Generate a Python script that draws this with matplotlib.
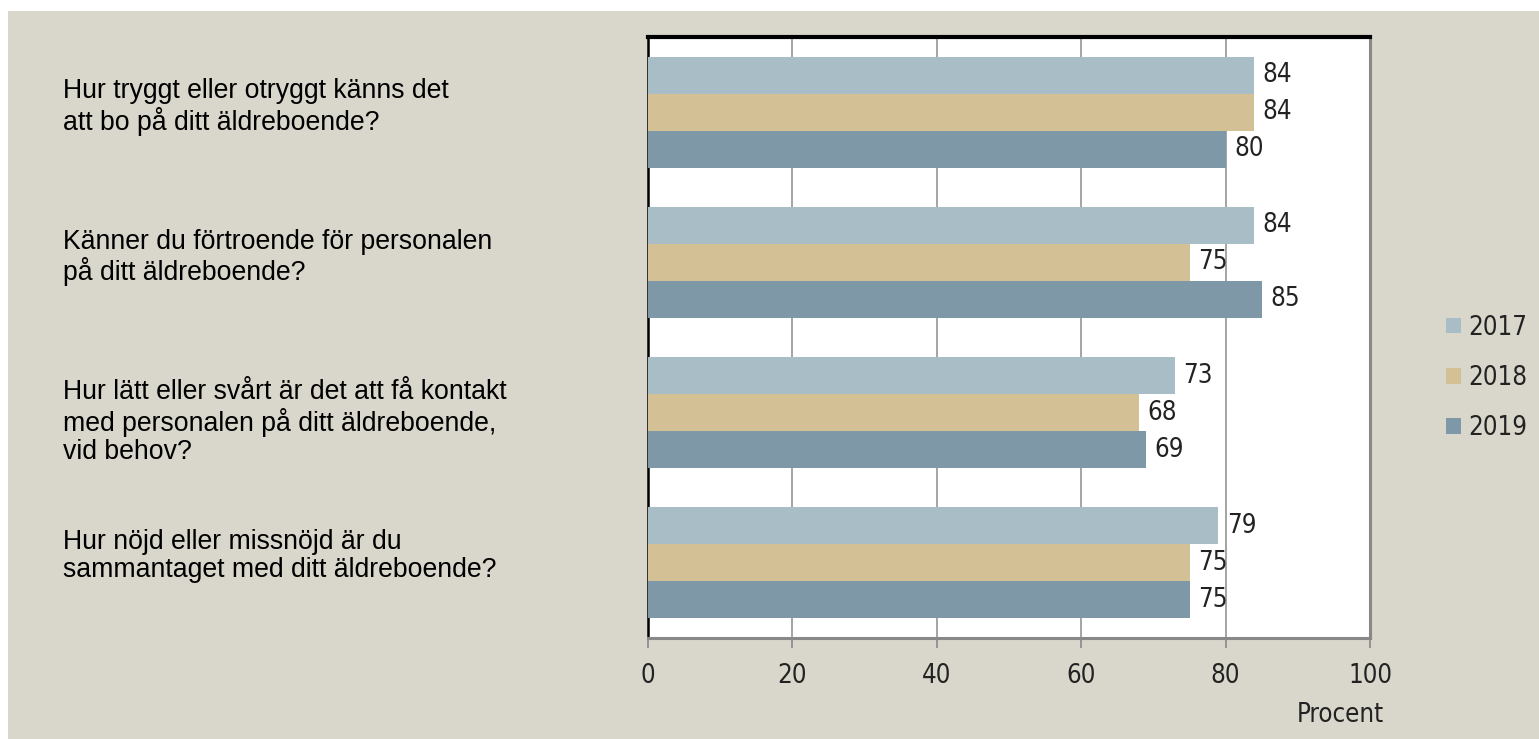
import matplotlib
matplotlib.use("Agg")
import matplotlib.pyplot as plt
import matplotlib.transforms as mtransforms
from matplotlib.patches import Rectangle, Patch
import numpy as np

categories = [
    "Hur tryggt eller otryggt känns det\natt bo på ditt äldreboende?",
    "Känner du förtroende för personalen\npå ditt äldreboende?",
    "Hur lätt eller svårt är det att få kontakt\nmed personalen på ditt äldreboende,\nvid behov?",
    "Hur nöjd eller missnöjd är du\nsammantaget med ditt äldreboende?",
]
years = ["2017", "2018", "2019"]
values_2017 = [84, 84, 73, 79]
values_2018 = [84, 75, 68, 75]
values_2019 = [80, 85, 69, 75]
series = [values_2017, values_2018, values_2019]
colors = ["#a9bdc7", "#d4c095", "#7e98a8"]
x_ticks = [0, 20, 40, 60, 80, 100]
x_label = "Procent"

NUM_FONT = {"family": "DejaVu Sans", "size": 18.5, "stretch": "condensed"}

W, H = 1539, 739
fig = plt.figure(figsize=(W / 100, H / 100), dpi=100, facecolor="white")
bg = Rectangle((8 / W, 0), 1, (H - 11) / H, transform=fig.transFigure,
               facecolor="#d9d7cb", edgecolor="none", zorder=-10)
fig.patches.append(bg)

ax_l, ax_r, ax_t, ax_b = 648, 1370, 37, 638
ax = fig.add_axes([ax_l / W, (H - ax_b) / H, (ax_r - ax_l) / W, (ax_b - ax_t) / H])
ax.set_zorder(1)
ax.set_facecolor("white")

n = len(categories)
bar_h = 0.246
y_idx = np.arange(n)
for k, (vals, col) in enumerate(zip(series, colors)):
    ypos = y_idx + (k - 1) * bar_h
    ax.barh(ypos, vals, height=bar_h, color=col, edgecolor="none", zorder=3, label=years[k])
    for yy, v in zip(ypos, vals):
        ax.annotate(str(v), (v, yy), xytext=(6, 0), textcoords="offset points",
                    va="center", ha="left", color="#222222", zorder=4, **NUM_FONT)

ax.set_xlim(0, 100)
ax.set_ylim(n - 0.5, -0.5)
ax.set_xticks(x_ticks)
ax.set_xticklabels([str(t) for t in x_ticks], color="#222222", **NUM_FONT)
ax.set_yticks([])
ax.tick_params(axis="x", direction="out", length=7.5, width=1.2, color="#888888", pad=10.5)
ax.xaxis.grid(True, color="#8c8c8c", linewidth=1.1, zorder=1)
ax.set_axisbelow(True)

ax.spines["top"].set_color("black")
ax.spines["top"].set_linewidth(3)
ax.spines["left"].set_color("black")
ax.spines["left"].set_linewidth(1.8)
ax.spines["bottom"].set_color("#888888")
ax.spines["bottom"].set_linewidth(2.2)
ax.spines["right"].set_color("#888888")
ax.spines["right"].set_linewidth(2.2)

ax.text(1.019, -0.128, x_label, transform=ax.transAxes, ha="right", va="center",
        color="#222222", **NUM_FONT)

# category labels
blend = mtransforms.blended_transform_factory(fig.transFigure, ax.transData)
for i, lab in enumerate(categories):
    fig.text(63 / W, i - 0.225, lab, transform=blend, ha="left", va="top",
             fontsize=19.2, family="Liberation Sans", color="black", linespacing=1.12)

handles = [Patch(facecolor=c, edgecolor="none") for c in colors]
leg = fig.legend(handles, years, loc="center left", bbox_to_anchor=(1423 / W, (H - 378) / H),
                 frameon=False, handlelength=0.57, handleheight=0.57,
                 handletextpad=0.28, labelspacing=0.95, prop=NUM_FONT)
for t in leg.get_texts():
    t.set_color("#222222")

fig.savefig("out.png", dpi=100, facecolor=fig.get_facecolor())
